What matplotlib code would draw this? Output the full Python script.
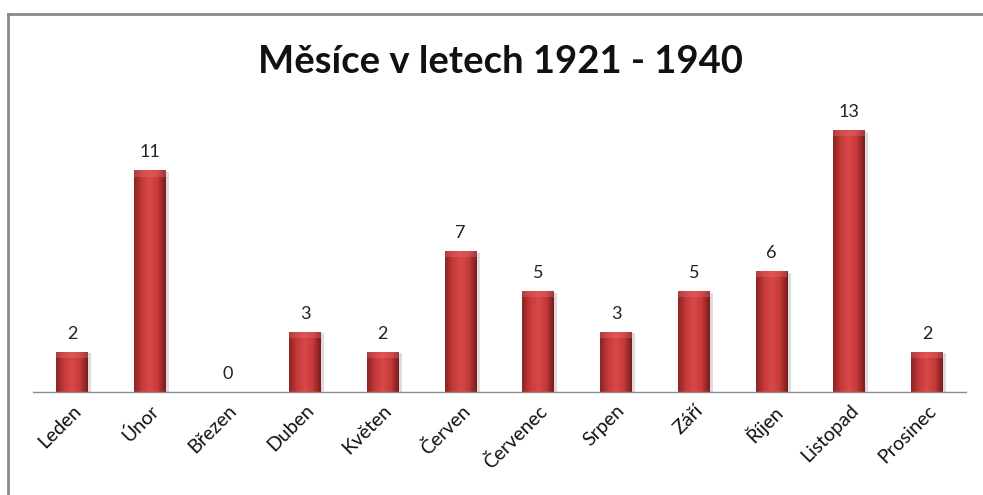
import matplotlib
matplotlib.use("Agg")
import matplotlib.pyplot as plt
import numpy as np
from matplotlib.colors import LinearSegmentedColormap
from matplotlib.patches import Rectangle
from matplotlib.lines import Line2D

months = ["Leden", "Únor", "Březen", "Duben", "Květen", "Červen",
          "Červenec", "Srpen", "Září", "Říjen", "Listopad", "Prosinec"]
counts = [2, 11, 0, 3, 2, 7, 5, 3, 5, 6, 13, 2]
title = "Měsíce v letech 1921 - 1940"

plt.rcParams["font.family"] = ["Lato", "DejaVu Sans"]

fig = plt.figure(figsize=(9.83, 4.95), dpi=100)
ax = fig.add_axes([0.0336, 0.208, 0.949, 0.5697])

x = np.arange(len(months))
bar_w = 0.41

# bevelled red bars: flat bar for shadow, gradient image clipped on top
shade = LinearSegmentedColormap.from_list(
    "shade", ["#8e2424", "#c63a3a", "#d94848", "#c63a3a", "#7a1c1c"])
grad = np.linspace(0, 1, 64).reshape(1, -1)

for xi, v in zip(x, counts):
    if v <= 0:
        continue
    ax.bar(xi + 0.04, v, bar_w, bottom=-0.08, color="#dcdcdc", zorder=1)
    bar = ax.bar(xi, v, bar_w, color="#c0393b", zorder=2)[0]
    im = ax.imshow(grad, cmap=shade, aspect="auto", zorder=3,
                   extent=(xi - bar_w / 2, xi + bar_w / 2, 0, v))
    im.set_clip_path(bar)
    # lighter top bevel
    cap = min(0.3, v * 0.15)
    ax.add_patch(Rectangle((xi - bar_w / 2, v - cap), bar_w, cap,
                           facecolor="#e87070", alpha=0.35, lw=0, zorder=4))

for xi, v in zip(x, counts):
    ax.text(xi, v + 0.5, str(v), ha="center", va="bottom",
            fontsize=13, color="#222222")

ax.set_xlim(-0.5, len(months) - 0.5)
ax.set_ylim(0, 14)
ax.set_xticks(x)
ax.set_xticklabels(months, rotation=45, ha="right", rotation_mode="anchor",
                   fontsize=14, color="#111111")
ax.tick_params(axis="x", length=0, pad=7)
ax.set_yticks([])
for side in ["left", "right", "top"]:
    ax.spines[side].set_visible(False)
ax.spines["bottom"].set_color("#8c8c8c")
ax.spines["bottom"].set_linewidth(1.0)
ax.spines["bottom"].set_zorder(5)

fig.text(0.509, 0.875, title, ha="center", va="center",
         fontsize=27.5, fontweight="bold", color="#111111")

# chart frame (left and top edges visible)
fig.add_artist(Line2D([7.5 / 983, 7.5 / 983], [0, 1 - 13.5 / 495],
                      transform=fig.transFigure, color="#8a8a8a", lw=2))
fig.add_artist(Line2D([7.5 / 983, 1], [1 - 13.5 / 495, 1 - 13.5 / 495],
                      transform=fig.transFigure, color="#8a8a8a", lw=2))

fig.savefig("out.png", dpi=100)
